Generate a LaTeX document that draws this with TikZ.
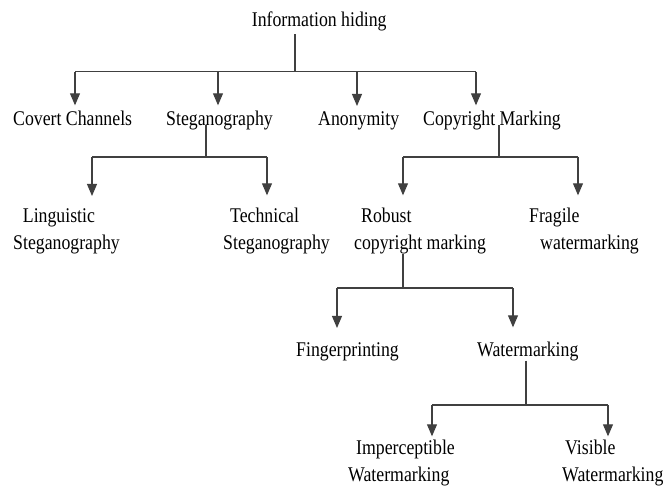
\documentclass[tikz,border=0pt]{standalone}
\usepackage{fontspec}
\setmainfont{Liberation Serif}[FakeStretch=0.85]
\usetikzlibrary{arrows.meta}

\begin{document}
\begin{tikzpicture}[
    x=1pt, y=-1pt,
    lbl/.style={inner sep=0pt, anchor=base west, align=left, font=\fontsize{20.9}{27.5}\selectfont},
    ln/.style={black!75, line width=1.1pt},
    arr/.style={ln, -{Triangle[width=10pt, length=12pt]}},
]
\useasboundingbox (0,0) rectangle (665,487);

% Row baselines (last line of each label)
\def\ra{125}    % first level
\def\rb{249.5}  % second level
\def\rc{356}    % third level
\def\rd{481.5}  % fourth level

% Root
\node[lbl] (info) at (251.7, 26.5) {Information hiding};

% First level
\node[lbl] (covert) at (13, \ra) {Covert Channels};
\node[lbl] (stego) at (166, \ra) {Steganography};
\node[lbl] (anon) at (318, \ra) {Anonymity};
\node[lbl] (copy) at (423, \ra) {Copyright Marking};

% Second level
\node[lbl] (ling) at (13, \rb) {\hspace*{9.7pt}Linguistic\\Steganography};
\node[lbl] (tech) at (223, \rb) {\hspace*{7pt}Technical\\Steganography};
\node[lbl] (robust) at (354, \rb) {\hspace*{7pt}Robust\\copyright marking};
\node[lbl] (fragile) at (529, \rb) {Fragile\\\hspace*{11pt}watermarking};

% Third level
\node[lbl] (finger) at (296, \rc) {Fingerprinting};
\node[lbl] (water) at (477, \rc) {Watermarking};

% Fourth level
\node[lbl] (imperc) at (348, \rd) {\hspace*{8pt}Imperceptible\\Watermarking};
\node[lbl] (visible) at (562, \rd) {\hspace*{3pt}Visible\\Watermarking};

% Bar under the root
\coordinate (j0) at (295, 71.7);
\coordinate (b0a) at (75, 71.7);
\coordinate (b0b) at (218, 71.7);
\coordinate (b0c) at (357, 71.7);
\coordinate (b0d) at (476, 71.7);
\draw[ln] ([yshift=-3pt]j0 |- info.south) -- (j0);
\draw[ln] (b0a) -- (b0d);
\draw[arr, shorten >=5pt] (b0a) -- (b0a |- covert.north);
\draw[arr, shorten >=5pt] (b0b) -- (b0b |- stego.north);
\draw[arr, shorten >=5pt] (b0c) -- (b0c |- anon.north);
\draw[arr, shorten >=5pt] (b0d) -- (b0d |- copy.north);

% Bar under Steganography
\coordinate (j1) at (206, 157);
\coordinate (b1a) at (92, 157);
\coordinate (b1b) at (267, 157);
\draw[ln] (j1 |- stego.base) -- (j1);
\draw[ln] (b1a) -- (b1b);
\draw[arr, shorten >=12pt] (b1a) -- (b1a |- ling.north);
\draw[arr, shorten >=12pt] (b1b) -- (b1b |- tech.north);

% Bar under Copyright Marking
\coordinate (j2) at (499, 157);
\coordinate (b2a) at (403, 157);
\coordinate (b2b) at (578, 157);
\draw[ln] (j2 |- copy.base) -- (j2);
\draw[ln] (b2a) -- (b2b);
\draw[arr, shorten >=12pt] (b2a) -- (b2a |- robust.north);
\draw[arr, shorten >=12pt] (b2b) -- (b2b |- fragile.north);

% Bar under Robust copyright marking
\coordinate (j3) at (403, 288);
\coordinate (b3a) at (337, 288);
\coordinate (b3b) at (513, 288);
\draw[ln] (j3 |- robust.south) -- (j3);
\draw[ln] (b3a) -- (b3b);
\draw[arr, shorten >=14pt] (b3a) -- (b3a |- finger.north);
\draw[arr, shorten >=14pt] (b3b) -- (b3b |- water.north);

% Bar under Watermarking
\coordinate (j4) at (526, 405);
\coordinate (b4a) at (432, 405);
\coordinate (b4b) at (608, 405);
\draw[ln] (j4 |- water.south) -- (j4);
\draw[ln] (b4a) -- (b4b);
\draw[arr, shorten >=3pt] (b4a) -- (b4a |- imperc.north);
\draw[arr, shorten >=3pt] (b4b) -- (b4b |- visible.north);

\end{tikzpicture}
\end{document}
